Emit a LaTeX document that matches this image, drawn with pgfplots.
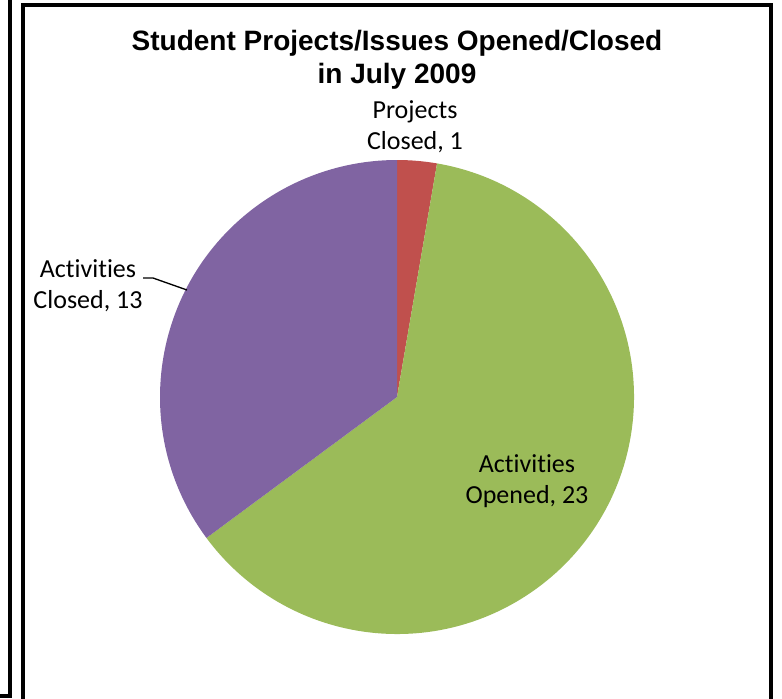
\documentclass[border=0pt]{standalone}
\usepackage{fontspec}
\setmainfont{Carlito}[Ligatures=NoCommon]
\newfontfamily\titlefont{Liberation Sans}
\usepackage{pgfplots}
\usepackage{pgfplotstable}
\pgfplotsset{compat=1.18}

\definecolor{pieRed}{HTML}{C0504D}
\definecolor{pieGreen}{HTML}{9BBB59}
\definecolor{piePurple}{HTML}{8064A2}

% slices, clockwise from 12 o'clock
\pgfplotstableread{
label value
ProjectsClosed 1
ActivitiesOpened 23
ActivitiesClosed 13
}\piedata

\pgfplotstablegetelem{0}{value}\of\piedata \let\vA\pgfplotsretval
\pgfplotstablegetelem{1}{value}\of\piedata \let\vB\pgfplotsretval
\pgfplotstablegetelem{2}{value}\of\piedata \let\vC\pgfplotsretval
\pgfmathsetmacro\vTot{\vA+\vB+\vC}
\pgfmathsetmacro\angA{90-360*\vA/\vTot}
\pgfmathsetmacro\angB{\angA-360*\vB/\vTot}
\def\rad{177.75pt} % 237 px

\begin{document}
\begin{tikzpicture}
\begin{axis}[
    width=586.5pt, height=524.25pt,
    scale only axis,
    xmin=0, xmax=782, ymin=0, ymax=699,
    y dir=reverse,
    hide axis,
    clip=false,
]
% frames
\draw[line width=2.4pt] (axis cs:0,696) -- (axis cs:10,696) -- (axis cs:10,-5);
\draw[line width=2.4pt] (axis cs:23,705) -- (axis cs:23,5) -- (axis cs:771,5) -- (axis cs:771,705);

% wedges
\fill[pieRed] (axis cs:397,397) -- ++(90:\rad) arc[start angle=90, end angle=\angA, radius=\rad] -- cycle;
\fill[pieGreen] (axis cs:397,397) -- ++(\angA:\rad) arc[start angle=\angA, end angle=\angB, radius=\rad] -- cycle;
\fill[piePurple] (axis cs:397,397) -- ++(\angB:\rad) arc[start angle=\angB, end angle=-270, radius=\rad] -- cycle;

% title
\node[align=center, font=\titlefont\bfseries\fontsize{21}{24.5}\selectfont]
  at (axis cs:397,60) {Student Projects/Issues Opened/Closed\\in July 2009};

% data labels
\node[align=center, font=\fontsize{19.5}{23.25}\selectfont] at (axis cs:415,127) {Projects\\Closed, 1};
\node[align=center, font=\fontsize{19.5}{23.25}\selectfont] at (axis cs:88,286) {Activities\\Closed, 13};
\node[align=center, font=\fontsize{19.5}{23.25}\selectfont] at (axis cs:527,481) {Activities\\Opened, 23};
\draw[line width=1pt] (axis cs:143,278) -- (axis cs:153,278) -- (axis cs:187,290);
\end{axis}
\pgfresetboundingbox
\path (current axis.south west) rectangle (current axis.north east);
\end{tikzpicture}
\end{document}
